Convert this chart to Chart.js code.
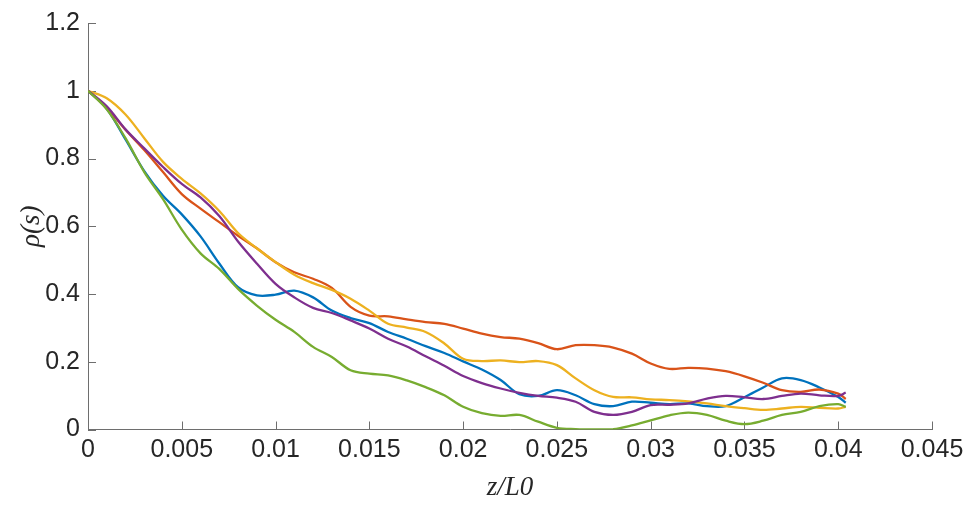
<!DOCTYPE html>
<html>
<head>
<meta charset="utf-8">
<script src="https://cdn.jsdelivr.net/npm/chart.js@4/dist/chart.umd.min.js"></script>
<style>
  html, body { margin: 0; padding: 0; background: #fff; }
  #wrap { width: 972px; height: 508px; }
</style>
</head>
<body>
<div id="wrap"><canvas id="chart" width="972" height="508"></canvas></div>
<script>
// z/L0 positions shared by all five curves
const zValues = [0, 0.001, 0.002, 0.003, 0.004, 0.005, 0.006, 0.007, 0.008, 0.009,
  0.010, 0.011, 0.012, 0.013, 0.014, 0.015, 0.016, 0.017, 0.018, 0.019,
  0.020, 0.021, 0.022, 0.023, 0.024, 0.025, 0.026, 0.027, 0.028, 0.029,
  0.030, 0.031, 0.032, 0.033, 0.034, 0.035, 0.036, 0.037, 0.038, 0.039,
  0.040, 0.0404]

const rhoBlue = [1.0, 0.947, 0.856, 0.763, 0.69, 0.635, 0.57, 0.49, 0.42, 0.396,
  0.398, 0.41, 0.39, 0.351, 0.329, 0.314, 0.288, 0.268, 0.246, 0.226,
  0.201, 0.177, 0.146, 0.104, 0.099, 0.116, 0.101, 0.075, 0.069, 0.082,
  0.079, 0.075, 0.077, 0.069, 0.069, 0.095, 0.124, 0.151, 0.146, 0.124,
  0.096, 0.079]
const rhoOrange = [1.0, 0.95, 0.885, 0.825, 0.76, 0.695, 0.652, 0.612, 0.572, 0.535,
  0.494, 0.464, 0.445, 0.418, 0.362, 0.336, 0.334, 0.325, 0.317, 0.312,
  0.298, 0.283, 0.273, 0.268, 0.255, 0.237, 0.249, 0.249, 0.242, 0.224,
  0.195, 0.179, 0.182, 0.18, 0.172, 0.157, 0.138, 0.116, 0.111, 0.118,
  0.106, 0.09]
const rhoYellow = [1.0, 0.978, 0.93, 0.86, 0.79, 0.74, 0.697, 0.645, 0.58, 0.535,
  0.494, 0.457, 0.432, 0.412, 0.386, 0.351, 0.312, 0.301, 0.288, 0.254,
  0.209, 0.202, 0.204, 0.199, 0.202, 0.19, 0.151, 0.116, 0.096, 0.095,
  0.089, 0.087, 0.083, 0.077, 0.069, 0.063, 0.058, 0.062, 0.067, 0.064,
  0.062, 0.067]
const rhoPurple = [1.0, 0.954, 0.886, 0.83, 0.775, 0.725, 0.685, 0.63, 0.555, 0.49,
  0.43, 0.39, 0.359, 0.344, 0.322, 0.298, 0.268, 0.245, 0.216, 0.188,
  0.158, 0.137, 0.121, 0.108, 0.099, 0.094, 0.082, 0.052, 0.043, 0.052,
  0.072, 0.073, 0.077, 0.091, 0.099, 0.095, 0.09, 0.099, 0.106, 0.101,
  0.099, 0.109]
const rhoGreen = [1.0, 0.945, 0.86, 0.76, 0.68, 0.59, 0.52, 0.474, 0.415, 0.366,
  0.324, 0.288, 0.244, 0.214, 0.175, 0.165, 0.16, 0.145, 0.125, 0.101,
  0.067, 0.048, 0.04, 0.043, 0.023, 0.005, 0.001, 0.0, 0.001, 0.012,
  0.027, 0.042, 0.05, 0.043, 0.026, 0.016, 0.026, 0.043, 0.052, 0.069,
  0.075, 0.067]

const xTickLabels = ["0", "0.005", "0.01", "0.015", "0.02", "0.025", "0.03", "0.035", "0.04", "0.045"]
const yTickLabels = ["0", "0.2", "0.4", "0.6", "0.8", "1", "1.2"]

const series = [
  { values: rhoBlue, color: "#0072BD" },
  { values: rhoOrange, color: "#D95319" },
  { values: rhoYellow, color: "#EDB120" },
  { values: rhoPurple, color: "#7E2F8E" },
  { values: rhoGreen, color: "#77AC30" }
]

const axisColor = "#6e6e6e"
const textColor = "#262626"
const tickFont = { family: "'Liberation Sans', Arial, sans-serif", size: 25 }
const titleFont = { family: "'Liberation Serif', 'Times New Roman', serif", size: 27, style: "italic" }

// matlab style ticks pointing into the plot
const inwardTicks = {
  id: "inwardTicks",
  beforeDatasetsDraw(chart) {
    const ctx = chart.ctx
    const { x, y } = chart.scales
    const len = 8
    ctx.save()
    ctx.strokeStyle = axisColor
    ctx.lineWidth = 1
    ctx.beginPath()
    x.ticks.forEach(t => {
      const px = Math.round(x.getPixelForValue(t.value)) + 0.5
      ctx.moveTo(px, y.bottom)
      ctx.lineTo(px, y.bottom - len)
    })
    y.ticks.forEach(t => {
      const py = Math.round(y.getPixelForValue(t.value)) + 0.5
      ctx.moveTo(x.left, py)
      ctx.lineTo(x.left + len, py)
    })
    ctx.stroke()
    ctx.restore()
  }
}

new Chart(document.getElementById("chart"), {
  type: "line",
  data: {
    datasets: series.map((s, i) => ({
      data: s.values.map((v, j) => ({ x: zValues[j], y: v })),
      borderColor: s.color,
      borderWidth: 2.3,
      pointRadius: 0,
      fill: false,
      tension: 0.35,
      order: series.length - i
    }))
  },
  options: {
    responsive: false,
    devicePixelRatio: 1,
    animation: false,
    layout: { padding: { left: 0, right: 40, top: 21, bottom: 0 } },
    plugins: { legend: { display: false }, tooltip: { enabled: false } },
    scales: {
      x: {
        type: "linear",
        min: 0,
        max: 0.045,
        afterFit(scale) { scale.height = 78.5 },
        grid: { display: false, drawTicks: false },
        border: { display: true, color: axisColor, width: 1 },
        ticks: {
          stepSize: 0.005,
          padding: 6,
          color: textColor,
          font: tickFont,
          maxRotation: 0,
          autoSkip: false,
          callback: (v, i) => xTickLabels[i]
        },
        title: {
          display: true,
          text: "z/L0",
          color: textColor,
          font: titleFont,
          padding: { top: 0, bottom: 4 }
        }
      },
      y: {
        min: 0,
        max: 1.2,
        afterFit(scale) { scale.width = 88 },
        grid: { display: false, drawTicks: false },
        border: { display: true, color: axisColor, width: 1 },
        ticks: {
          stepSize: 0.2,
          padding: 8,
          color: textColor,
          font: tickFont,
          callback: (v, i) => yTickLabels[i]
        },
        title: {
          display: true,
          text: "ρ(s)",
          color: textColor,
          font: titleFont,
          padding: { top: 16, bottom: 0 }
        }
      }
    }
  },
  plugins: [inwardTicks]
})
</script>
</body>
</html>
